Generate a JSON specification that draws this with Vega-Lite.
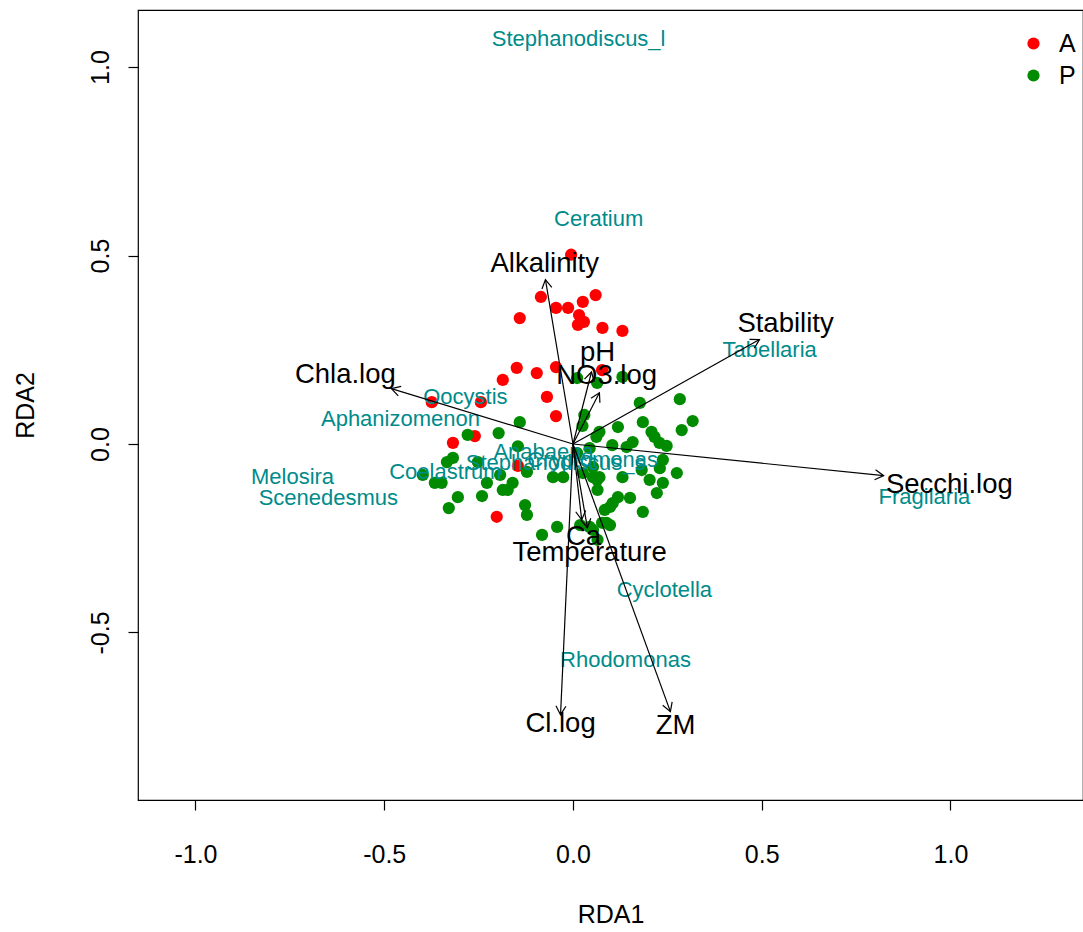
{
  "$schema": "https://vega.github.io/schema/vega-lite/v6.json",
  "width": 945,
  "height": 790,
  "autosize": {"type": "none"},
  "padding": {"left": 138, "top": 10, "right": 0, "bottom": 132},
  "background": "white",
  "config": {
    "font": "Liberation Sans",
    "view": {"stroke": "black", "strokeWidth": 1.2},
    "axis": {
      "domain": false,
      "grid": false,
      "ticks": true,
      "tickColor": "black",
      "tickWidth": 1.2,
      "tickSize": 10,
      "labelFontSize": 25,
      "labelColor": "black",
      "labelFlush": false,
      "labelOverlap": false,
      "titleFontSize": 25,
      "titleFontWeight": "normal",
      "titleColor": "black"
    }
  },
  "datasets": {
    "sites": [
      {"x": -0.005, "y": 0.502, "group": "A"},
      {"x": -0.085, "y": 0.390, "group": "A"},
      {"x": -0.045, "y": 0.361, "group": "A"},
      {"x": -0.013, "y": 0.361, "group": "A"},
      {"x": 0.026, "y": 0.377, "group": "A"},
      {"x": 0.060, "y": 0.395, "group": "A"},
      {"x": 0.016, "y": 0.342, "group": "A"},
      {"x": 0.029, "y": 0.324, "group": "A"},
      {"x": 0.013, "y": 0.316, "group": "A"},
      {"x": -0.141, "y": 0.334, "group": "A"},
      {"x": 0.078, "y": 0.308, "group": "A"},
      {"x": 0.131, "y": 0.300, "group": "A"},
      {"x": -0.149, "y": 0.202, "group": "A"},
      {"x": -0.096, "y": 0.188, "group": "A"},
      {"x": -0.045, "y": 0.204, "group": "A"},
      {"x": -0.186, "y": 0.170, "group": "A"},
      {"x": -0.069, "y": 0.125, "group": "A"},
      {"x": -0.045, "y": 0.074, "group": "A"},
      {"x": -0.374, "y": 0.111, "group": "A"},
      {"x": -0.244, "y": 0.111, "group": "A"},
      {"x": 0.077, "y": 0.196, "group": "A"},
      {"x": -0.318, "y": 0.003, "group": "A"},
      {"x": -0.260, "y": 0.021, "group": "A"},
      {"x": -0.146, "y": -0.058, "group": "A"},
      {"x": -0.202, "y": -0.193, "group": "A"},
      {"x": 0.011, "y": 0.175, "group": "P"},
      {"x": 0.064, "y": 0.162, "group": "P"},
      {"x": 0.131, "y": 0.178, "group": "P"},
      {"x": 0.177, "y": 0.109, "group": "P"},
      {"x": 0.283, "y": 0.119, "group": "P"},
      {"x": 0.317, "y": 0.061, "group": "P"},
      {"x": 0.288, "y": 0.037, "group": "P"},
      {"x": 0.185, "y": 0.058, "group": "P"},
      {"x": 0.119, "y": 0.045, "group": "P"},
      {"x": 0.070, "y": 0.032, "group": "P"},
      {"x": 0.030, "y": 0.077, "group": "P"},
      {"x": 0.025, "y": 0.048, "group": "P"},
      {"x": 0.208, "y": 0.032, "group": "P"},
      {"x": 0.216, "y": 0.019, "group": "P"},
      {"x": 0.229, "y": 0.003, "group": "P"},
      {"x": 0.248, "y": -0.005, "group": "P"},
      {"x": 0.158, "y": 0.005, "group": "P"},
      {"x": 0.142, "y": -0.008, "group": "P"},
      {"x": 0.104, "y": -0.003, "group": "P"},
      {"x": 0.044, "y": -0.011, "group": "P"},
      {"x": -0.141, "y": 0.058, "group": "P"},
      {"x": -0.197, "y": 0.029, "group": "P"},
      {"x": -0.279, "y": 0.024, "group": "P"},
      {"x": -0.146, "y": -0.006, "group": "P"},
      {"x": 0.062, "y": 0.019, "group": "P"},
      {"x": -0.318, "y": -0.037, "group": "P"},
      {"x": -0.334, "y": -0.048, "group": "P"},
      {"x": -0.252, "y": -0.048, "group": "P"},
      {"x": -0.193, "y": -0.082, "group": "P"},
      {"x": -0.122, "y": -0.074, "group": "P"},
      {"x": -0.366, "y": -0.103, "group": "P"},
      {"x": -0.348, "y": -0.103, "group": "P"},
      {"x": -0.398, "y": -0.082, "group": "P"},
      {"x": -0.228, "y": -0.103, "group": "P"},
      {"x": -0.186, "y": -0.122, "group": "P"},
      {"x": -0.173, "y": -0.122, "group": "P"},
      {"x": -0.160, "y": -0.103, "group": "P"},
      {"x": -0.241, "y": -0.138, "group": "P"},
      {"x": -0.305, "y": -0.141, "group": "P"},
      {"x": -0.329, "y": -0.170, "group": "P"},
      {"x": -0.127, "y": -0.162, "group": "P"},
      {"x": -0.122, "y": -0.188, "group": "P"},
      {"x": -0.053, "y": -0.088, "group": "P"},
      {"x": -0.026, "y": -0.088, "group": "P"},
      {"x": 0.011, "y": -0.024, "group": "P"},
      {"x": 0.026, "y": -0.077, "group": "P"},
      {"x": 0.053, "y": -0.088, "group": "P"},
      {"x": -0.042, "y": -0.220, "group": "P"},
      {"x": -0.082, "y": -0.241, "group": "P"},
      {"x": 0.019, "y": -0.215, "group": "P"},
      {"x": 0.053, "y": -0.228, "group": "P"},
      {"x": 0.077, "y": -0.209, "group": "P"},
      {"x": 0.098, "y": -0.215, "group": "P"},
      {"x": 0.119, "y": -0.141, "group": "P"},
      {"x": 0.151, "y": -0.143, "group": "P"},
      {"x": 0.098, "y": -0.167, "group": "P"},
      {"x": 0.185, "y": -0.180, "group": "P"},
      {"x": 0.053, "y": -0.061, "group": "P"},
      {"x": 0.064, "y": -0.095, "group": "P"},
      {"x": 0.238, "y": -0.042, "group": "P"},
      {"x": 0.230, "y": -0.064, "group": "P"},
      {"x": 0.275, "y": -0.077, "group": "P"},
      {"x": 0.182, "y": -0.069, "group": "P"},
      {"x": 0.203, "y": -0.095, "group": "P"},
      {"x": 0.238, "y": -0.103, "group": "P"},
      {"x": 0.222, "y": -0.130, "group": "P"},
      {"x": 0.131, "y": -0.088, "group": "P"},
      {"x": 0.070, "y": -0.088, "group": "P"},
      {"x": 0.065, "y": -0.122, "group": "P"},
      {"x": 0.105, "y": -0.157, "group": "P"},
      {"x": 0.084, "y": -0.175, "group": "P"},
      {"x": 0.089, "y": -0.209, "group": "P"},
      {"x": 0.044, "y": -0.220, "group": "P"},
      {"x": 0.065, "y": -0.254, "group": "P"}
    ],
    "species": [
      {"x": 0.015, "y": 1.074, "name": "Stephanodiscus_l"},
      {"x": 0.068, "y": 0.597, "name": "Ceratium"},
      {"x": 0.521, "y": 0.250, "name": "Tabellaria"},
      {"x": -0.285, "y": 0.125, "name": "Oocystis"},
      {"x": -0.457, "y": 0.067, "name": "Aphanizomenon"},
      {"x": -0.743, "y": -0.087, "name": "Melosira"},
      {"x": -0.648, "y": -0.143, "name": "Scenedesmus"},
      {"x": -0.338, "y": -0.074, "name": "Coelastrum"},
      {"x": -0.078, "y": -0.020, "name": "Anabaena"},
      {"x": -0.046, "y": -0.050, "name": "Stephanodiscus_s"},
      {"x": 0.052, "y": -0.042, "name": "Cryptomonas"},
      {"x": 0.931, "y": -0.140, "name": "Fragilaria"},
      {"x": 0.242, "y": -0.386, "name": "Cyclotella"},
      {"x": 0.139, "y": -0.574, "name": "Rhodomonas"}
    ],
    "env": [
      {"x": -0.073, "y": 0.436, "lx": -0.075, "ly": 0.478, "name": "Alkalinity"},
      {"x": -0.481, "y": 0.147, "lx": -0.603, "ly": 0.184, "name": "Chla.log"},
      {"x": 0.494, "y": 0.277, "lx": 0.563, "ly": 0.319, "name": "Stability"},
      {"x": 0.049, "y": 0.191, "lx": 0.065, "ly": 0.242, "name": "pH"},
      {"x": 0.070, "y": 0.136, "lx": 0.089, "ly": 0.181, "name": "NO3.log"},
      {"x": 0.823, "y": -0.084, "lx": 0.997, "ly": -0.108, "name": "Secchi.log"},
      {"x": 0.023, "y": -0.201, "lx": 0.028, "ly": -0.248, "name": "Ca"},
      {"x": 0.038, "y": -0.222, "lx": 0.044, "ly": -0.288, "name": "Temperature"},
      {"x": -0.033, "y": -0.718, "lx": -0.033, "ly": -0.744, "name": "Cl.log"},
      {"x": 0.258, "y": -0.710, "lx": 0.272, "ly": -0.749, "name": "ZM"}
    ]
  },
  "layer": [
    {
      "data": {"name": "sites"},
      "mark": {"type": "circle", "size": 150, "opacity": 1},
      "encoding": {
        "x": {
          "field": "x", "type": "quantitative",
          "scale": {"domain": [-1.1523, 1.351], "nice": false, "zero": false},
          "axis": {
            "title": "RDA1",
            "values": [-1, -0.5, 0, 0.5, 1],
            "labelExpr": "(datum.value < 0 ? '-' : '') + format(abs(datum.value), '.1f')",
            "labelPadding": 32,
            "titlePadding": 35
          }
        },
        "y": {
          "field": "y", "type": "quantitative",
          "scale": {"domain": [-0.9443, 1.1512], "nice": false, "zero": false},
          "axis": {
            "title": "RDA2",
            "values": [-0.5, 0, 0.5, 1],
            "labelExpr": "(datum.value < 0 ? '-' : '') + format(abs(datum.value), '.1f')",
            "labelAngle": 270,
            "labelAlign": "center",
            "labelBaseline": "bottom",
            "labelPadding": 15,
            "titlePadding": 50
          }
        },
        "color": {
          "field": "group", "type": "nominal",
          "scale": {"domain": ["A", "P"], "range": ["#FF0000", "#008B00"]},
          "legend": {
            "title": null,
            "orient": "none",
            "legendX": 883,
            "legendY": 21,
            "padding": 0,
            "labelFontSize": 25,
            "labelColor": "black",
            "labelOffset": 13,
            "symbolType": "circle",
            "symbolSize": 150,
            "symbolStrokeWidth": 0,
            "symbolOpacity": 1,
            "rowPadding": 6
          }
        }
      }
    },
    {
      "mark": {"type": "rule", "color": "black", "strokeWidth": 1.2, "strokeDash": [3, 5]},
      "encoding": {
        "x": {"datum": 0, "type": "quantitative", "scale": {"domain": [-1.1523, 1.351], "nice": false, "zero": false}}
      }
    },
    {
      "mark": {"type": "rule", "color": "black", "strokeWidth": 1.2, "strokeDash": [3, 5]},
      "encoding": {
        "y": {"datum": 0, "type": "quantitative", "scale": {"domain": [-0.9443, 1.1512], "nice": false, "zero": false}}
      }
    },
    {
      "data": {"name": "species"},
      "mark": {"type": "text", "fontSize": 22, "color": "#008B8B", "align": "center", "baseline": "middle"},
      "encoding": {
        "x": {"field": "x", "type": "quantitative"},
        "y": {"field": "y", "type": "quantitative"},
        "text": {"field": "name"}
      }
    },
    {
      "data": {"name": "env"},
      "mark": {"type": "rule", "color": "black", "strokeWidth": 1.2},
      "encoding": {
        "x": {"field": "x", "type": "quantitative"},
        "y": {"field": "y", "type": "quantitative"},
        "x2": {"datum": 0},
        "y2": {"datum": 0}
      }
    },
    {
      "data": {"name": "env"},
      "transform": [
        {"calculate": "(atan2(datum.x, datum.y) * 180 / PI + 360) % 360", "as": "heading"}
      ],
      "mark": {
        "type": "point",
        "shape": "M-0.5,0.866L0,0L0.5,0.866",
        "filled": false,
        "stroke": "black",
        "strokeWidth": 1.2,
        "size": 400,
        "opacity": 1
      },
      "encoding": {
        "x": {"field": "x", "type": "quantitative"},
        "y": {"field": "y", "type": "quantitative"},
        "angle": {"field": "heading", "type": "quantitative", "scale": null}
      }
    },
    {
      "data": {"name": "env"},
      "mark": {"type": "text", "fontSize": 27.5, "color": "black", "align": "center", "baseline": "middle"},
      "encoding": {
        "x": {"field": "lx", "type": "quantitative"},
        "y": {"field": "ly", "type": "quantitative"},
        "text": {"field": "name"}
      }
    }
  ]
}
